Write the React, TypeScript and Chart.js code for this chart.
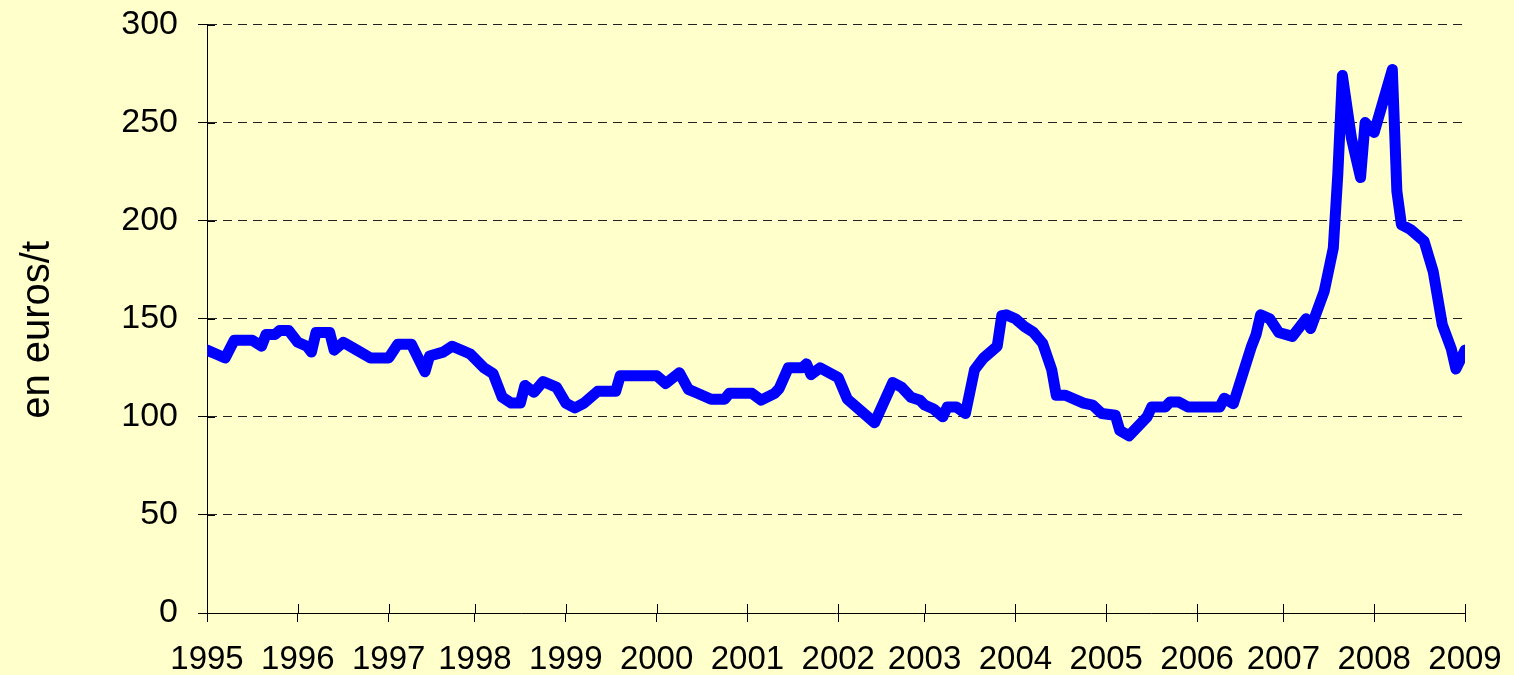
import React, { useEffect, useRef } from 'react';
import { Chart, registerables } from 'chart.js';

Chart.register(...registerables);

// Year labels on the x axis and the period index at which each year starts
const yearLabels = ['1995', '1996', '1997', '1998', '1999', '2000', '2001', '2002', '2003', '2004', '2005', '2006', '2007', '2008', '2009'];
const yearStartPeriod = [0, 20, 40, 59, 79, 99, 119, 139, 158, 178, 198, 218, 237, 257, 277];

// Price series (euros per tonne), period index -> value
const periods = [
  0, 2, 4, 6, 10, 12, 13, 15, 16, 18, 20, 22, 23, 24, 27, 28, 30, 33, 36, 40,
  42, 45, 48, 49, 52, 54, 58, 61, 63, 65, 67, 69, 70, 72, 74, 77, 79, 81, 83, 86,
  90, 91, 99, 101, 104, 106, 108, 111, 114, 115, 120, 122, 125, 126, 128, 131, 132, 133, 135, 139,
  141, 147, 151, 153, 155, 157, 158, 160, 162, 163, 165, 167, 169, 171, 174, 175, 176, 178, 180, 182,
  184, 186, 187, 189, 193, 195, 197, 200, 201, 203, 207, 208, 211, 212, 214, 216, 223, 224, 226, 230,
  231, 232, 234, 236, 239, 242, 243, 246, 248, 249, 250, 252, 254, 255, 257, 261, 262, 263, 265, 268,
  270, 272, 274, 275, 277,
];
const prices = [
  134, 132, 130, 139, 139, 136, 142, 142, 144, 144, 138, 136, 133, 143, 143, 134, 138, 134, 130, 130,
  137, 137, 123, 131, 133, 136, 132, 125, 122, 110, 107, 107, 116, 112.5, 118, 115, 107, 104.5, 107, 113,
  113, 121, 121, 117, 122.5, 114, 112, 109, 109, 112, 112, 108.5, 112, 114.5, 125, 125, 127, 121.5, 125, 120,
  109, 97, 117.5, 115, 110, 108.5, 106, 104, 100, 105, 105, 101.7, 124, 130, 136, 151.6, 152, 150, 146, 143,
  137.5, 124, 111, 111, 107, 106, 101.7, 100.8, 93, 90.3, 100, 105, 105, 107.5, 107.5, 105, 105, 109.5, 106.7, 136,
  142, 152, 150, 143, 141, 150, 145, 164, 186, 224, 274, 242, 222, 250, 245, 277, 215, 198, 195.5, 189.5,
  174, 147, 134.5, 124.4, 134,
];

const yTickValues = [0, 50, 100, 150, 200, 250, 300];
const yTitle = 'en euros/t';

const FONT = "'Liberation Sans', Arial, sans-serif";

const background = {
  id: 'background',
  beforeDraw(chart: any) {
    const { ctx, width, height } = chart;
    ctx.save();
    ctx.fillStyle = '#FFFFCC';
    ctx.fillRect(0, 0, width, height);
    ctx.restore();
  },
};

// Tick marks crossing the axes (inner half)
const innerTicks = {
  id: 'innerTicks',
  beforeDatasetsDraw(chart: any) {
    const { ctx, chartArea, scales } = chart;
    ctx.save();
    ctx.strokeStyle = '#000';
    ctx.lineWidth = 1;
    ctx.beginPath();
    scales.y.ticks.forEach((t: any) => {
      const y = Math.round(scales.y.getPixelForValue(t.value)) + 0.5;
      ctx.moveTo(chartArea.left, y);
      ctx.lineTo(chartArea.left + 8, y);
    });
    scales.x.ticks.forEach((t: any) => {
      const x = Math.round(scales.x.getPixelForValue(t.value)) + 0.5;
      ctx.moveTo(x, chartArea.bottom);
      ctx.lineTo(x, chartArea.bottom - 9);
    });
    ctx.stroke();
    ctx.restore();
  },
};

export default function App() {
  const ref = useRef<HTMLCanvasElement>(null);

  useEffect(() => {
    const canvas = ref.current;
    if (!canvas) return;
    const chart = new Chart(canvas, {
      type: 'line',
      data: {
        datasets: [
          {
            data: periods.map((p, i) => ({ x: p, y: prices[i] })),
            borderColor: '#0000FF',
            backgroundColor: '#0000FF',
            borderWidth: 11,
            pointRadius: 0,
            tension: 0,
            borderJoinStyle: 'round',
            borderCapStyle: 'round',
            fill: false,
          },
        ],
      },
      options: {
        responsive: false,
        animation: false,
        devicePixelRatio: 1,
        layout: { padding: { left: 0, right: 49, top: 24.5, bottom: 0 } },
        plugins: {
          legend: { display: false },
          tooltip: { enabled: false },
        },
        scales: {
          x: {
            type: 'linear',
            min: yearStartPeriod[0],
            max: yearStartPeriod[yearStartPeriod.length - 1],
            afterBuildTicks: (scale: any) => {
              scale.ticks = yearStartPeriod.map((v) => ({ value: v }));
            },
            afterFit: (scale: any) => {
              scale.height = 62;
              scale.paddingLeft = 0;
              scale.paddingRight = 0;
            },
            grid: {
              display: true,
              drawOnChartArea: false,
              drawTicks: true,
              tickLength: 9,
              tickColor: '#000',
              tickBorderDash: [],
            },
            border: { display: true, color: '#000', width: 1 },
            ticks: {
              autoSkip: false,
              maxRotation: 0,
              minRotation: 0,
              padding: 18,
              color: '#000',
              font: { family: FONT, size: 33 },
              callback: (v: any) => {
                const i = yearStartPeriod.indexOf(Number(v));
                return i >= 0 ? yearLabels[i] : '';
              },
            },
          },
          y: {
            type: 'linear',
            min: yTickValues[0],
            max: yTickValues[yTickValues.length - 1],
            afterBuildTicks: (scale: any) => {
              scale.ticks = yTickValues.map((v) => ({ value: v }));
            },
            afterFit: (scale: any) => {
              scale.width = 207;
              scale.paddingTop = 0;
              scale.paddingBottom = 0;
            },
            grid: {
              display: true,
              drawOnChartArea: true,
              drawTicks: true,
              tickLength: 9,
              tickColor: '#000',
              tickBorderDash: [],
              color: (c: any) => (c.tick && c.tick.value === 0 ? 'rgba(0,0,0,0)' : '#222'),
              lineWidth: 1,
            },
            border: { display: true, color: '#000', width: 1, dash: [9, 6] },
            ticks: {
              padding: 20,
              color: '#000',
              font: { family: FONT, size: 34 },
            },
            title: {
              display: true,
              text: yTitle + '  ',
              color: '#000',
              font: { family: FONT, size: 40, weight: 'normal' },
              padding: { top: 14, bottom: 0 },
            },
          },
        },
      },
      plugins: [background, innerTicks],
    } as any);
    return () => chart.destroy();
  }, []);

  return (
    <div style={{ position: 'fixed', left: 0, top: 0, width: 1514, height: 675, background: '#FFFFCC' }}>
      <canvas ref={ref} width={1514} height={675} style={{ display: 'block' }} />
    </div>
  );
}
